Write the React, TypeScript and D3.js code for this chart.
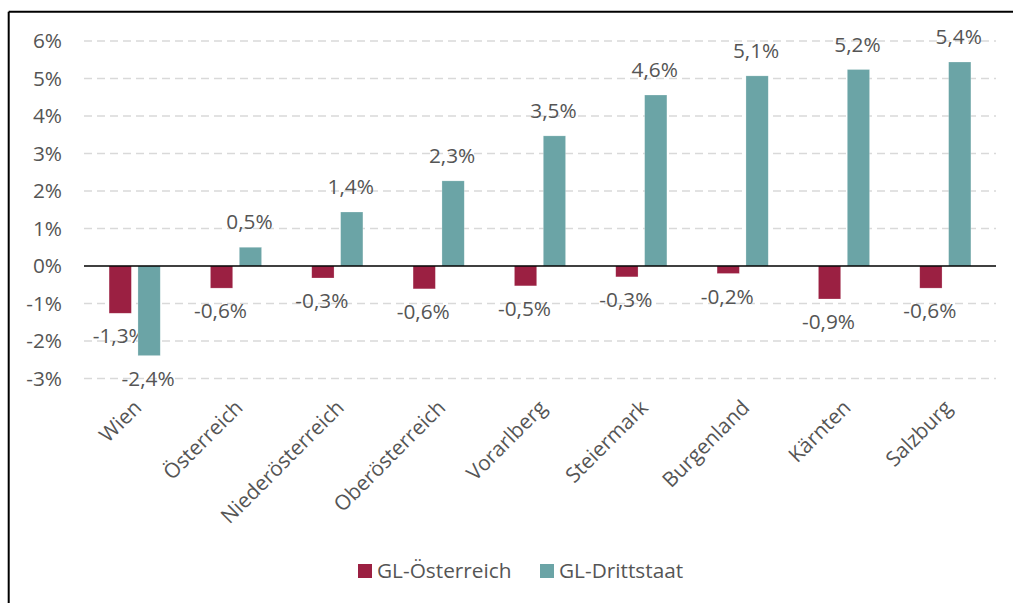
import React from "react";
import * as d3 from "d3";

const categories = ["Wien", "Österreich", "Niederösterreich", "Oberösterreich", "Vorarlberg", "Steiermark", "Burgenland", "Kärnten", "Salzburg"];
const glOesterreich = [-1.26, -0.59, -0.32, -0.61, -0.53, -0.29, -0.2, -0.88, -0.59];
const glDrittstaat = [-2.39, 0.5, 1.44, 2.27, 3.47, 4.56, 5.07, 5.24, 5.44];
const seriesNames = ["GL-Österreich", "GL-Drittstaat"];
const yTicks = [-3, -2, -1, 0, 1, 2, 3, 4, 5, 6];

const W = 1013, H = 603;
const FONT = "'Open Sans', sans-serif";
const TXT = "#555555";
const COLORS = ["#9B2042", "#6BA4A6"];
const FS = 20.8;

export default function App() {
  const x = d3.scaleBand<string>().domain(categories).range([84, 996]);
  const y = d3.scaleLinear().domain([-3, 6]).range([378.5, 41]);
  const bw = x.bandwidth() * 0.22;
  const gap = x.bandwidth() * 0.065;
  const fmt = (v: number) => v.toFixed(1).replace(".", ",") + "%";
  const series = [glOesterreich, glDrittstaat];

  return (
    <svg width={W} height={H} style={{ position: "fixed", left: 0, top: 0, background: "#fff" }} fontFamily={FONT}>
      <rect x={0} y={0} width={W} height={H} fill="#fff" />
      <line x1={8.7} y1={11.8} x2={W + 5} y2={11.8} stroke="#000" strokeWidth={2} />
      <line x1={8.7} y1={11.8} x2={8.7} y2={H + 5} stroke="#000" strokeWidth={2} />
      {yTicks.map((t) => (
        <g key={t}>
          {t !== 0 && (
            <line x1={84} x2={996} y1={y(t)} y2={y(t)} stroke="#d9d9d9" strokeWidth={1.5} strokeDasharray="8,5" />
          )}
          <text x={62} y={y(t)} dy="0.35em" textAnchor="end" fontSize={FS} fill={TXT}>
            {t + "%"}
          </text>
        </g>
      ))}
      {categories.map((c, i) => {
        const cx = (x(c) as number) + x.bandwidth() / 2;
        return (
          <g key={c}>
            {series.map((s, k) => {
              const v = s[i];
              const bx = k === 0 ? cx - gap / 2 - bw : cx + gap / 2;
              const top = Math.min(y(v), y(0));
              const h = Math.abs(y(v) - y(0));
              const ly = v >= 0 ? y(v) - 18 : y(v) + 30;
              return (
                <g key={k}>
                  <rect x={bx} y={top} width={bw} height={h} fill={COLORS[k]} stroke="#fff" strokeOpacity={0.4} strokeWidth={0.6} />
                  <text x={bx + bw / 2 - 1} y={ly} textAnchor="middle" fontSize={FS} fill={TXT}>
                    {fmt(v)}
                  </text>
                </g>
              );
            })}
            <text transform={`translate(${cx + 8},${409}) rotate(-45)`} textAnchor="end" fontSize={FS} fill={TXT}>
              {c}
            </text>
          </g>
        );
      })}
      <line x1={84} x2={996} y1={y(0)} y2={y(0)} stroke="#000" strokeWidth={1.5} />
      {seriesNames.map((n, k) => {
        const lx = k === 0 ? 358 : 540;
        return (
          <g key={n}>
            <rect x={lx} y={564} width={14} height={14} fill={COLORS[k]} />
            <text x={lx + 19} y={578} fontSize={FS} fill={TXT}>{n}</text>
          </g>
        );
      })}
    </svg>
  );
}
